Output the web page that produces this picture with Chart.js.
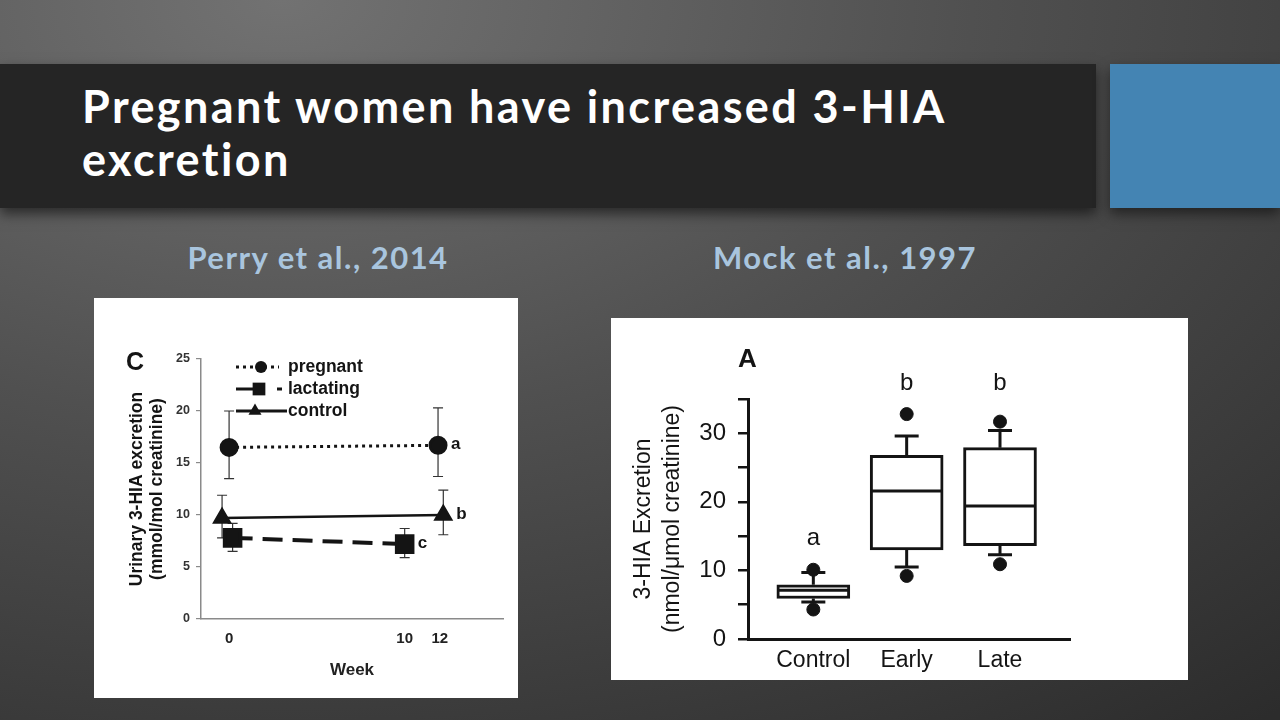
<!DOCTYPE html>
<html>
<head>
<meta charset="utf-8">
<script src="https://cdn.jsdelivr.net/npm/chart.js@4.4.1/dist/chart.umd.min.js"></script>
<style>
  html, body { margin: 0; padding: 0; }
  body {
    width: 1280px; height: 720px; overflow: hidden; position: relative;
    background: radial-gradient(ellipse 120% 130% at 22% 0%, #727272 0%, #505050 45%, #2c2c2c 100%);
    font-family: Lato, "Open Sans", sans-serif;
  }
  #titlebar {
    position: absolute; left: 0; top: 64px; width: 1096px; height: 144px;
    background: #252525; box-shadow: 0 6px 12px rgba(0,0,0,0.55);
  }
  #titlebar h1 {
    position: absolute; left: 82px; top: 16px; margin: 0;
    font: bold 45px/53px Lato, sans-serif; letter-spacing: 2.4px; color: #fff;
  }
  #bluebox {
    position: absolute; left: 1110px; top: 64px; width: 170px; height: 144px;
    background: #4484b3; box-shadow: 0 6px 12px rgba(0,0,0,0.5);
  }
  .cite {
    position: absolute; top: 238px; width: 400px; text-align: center;
    font: bold 31px Lato, sans-serif; letter-spacing: 1.5px; color: #a9c5de;
  }
  .panel { position: absolute; background: #fff; }
  .panel canvas { display: block; }
</style>
</head>
<body>
<div id="titlebar"><h1>Pregnant women have increased 3-HIA<br>excretion</h1></div>
<div id="bluebox"></div>
<div class="cite" style="left:118px">Perry et al., 2014</div>
<div class="cite" style="left:645px">Mock et al., 1997</div>

<div class="panel" style="left:94px;top:298px;width:424px;height:400px">
  <canvas id="perry" width="424" height="400"></canvas>
</div>
<div class="panel" style="left:611px;top:318px;width:577px;height:362px">
  <canvas id="mock" width="577" height="362"></canvas>
</div>

<script>
// ---- Perry et al. 2014 (panel C) ----
const weekTicks = [0, 10, 12];

const pregnantWeek = [0, 11.9];
const pregnantMean = [16.5, 16.7];
const pregnantLow  = [13.5, 13.7];
const pregnantHigh = [20.0, 20.3];

const lactatingWeek = [0.2, 10];
const lactatingMean = [7.8, 7.2];
const lactatingLow  = [6.5, 5.9];
const lactatingHigh = [9.2, 8.7];

const controlWeek = [-0.4, 12.2];
const controlMean = [9.7, 10.0];
const controlLow  = [7.8, 8.1];
const controlHigh = [11.9, 12.4];

const perryLetters = ['a', 'c', 'b'];

// ---- Mock et al. 1997 (panel A) ----
const groups = ['Control', 'Early', 'Late'];
const q1 = [5.9, 13.0, 13.6];
const q3 = [7.9, 26.8, 27.9];
const median = [7.1, 21.6, 19.4];
const whiskerLow = [5.4, 10.5, 12.3];
const whiskerHigh = [9.7, 29.6, 30.4];
const outlierLow = [4.3, 9.2, 10.9];
const outlierHigh = [10.1, 32.8, 31.7];
const mockLetters = ['a', 'b', 'b'];

const ink = '#141414';
const boldFont = (size) => ({ family: 'Liberation Sans', weight: 'bold', size: size });

function points(week, mean, low, high) {
  return week.map((w, i) => ({ x: w, y: mean[i], lo: low[i], hi: high[i] }));
}

function marker(ctx, style, x, y, r) {
  ctx.beginPath();
  if (style === 'circle') {
    ctx.arc(x, y, r, 0, Math.PI * 2);
  } else if (style === 'rect') {
    const s = r * Math.SQRT1_2;
    ctx.rect(x - s, y - s, 2 * s, 2 * s);
  } else {
    ctx.moveTo(x, y - r);
    ctx.lineTo(x + r * 0.866, y + r * 0.5);
    ctx.lineTo(x - r * 0.866, y + r * 0.5);
    ctx.closePath();
  }
  ctx.fill();
}

const perryMarks = {
  id: 'perryMarks',
  beforeDatasetsDraw(chart) {
    const { ctx, scales: { x, y } } = chart;
    ctx.save();
    ctx.strokeStyle = '#333';
    ctx.lineWidth = 1.2;
    chart.data.datasets.forEach(ds => {
      ds.data.forEach(p => {
        const px = x.getPixelForValue(p.x);
        const lo = y.getPixelForValue(p.lo), hi = y.getPixelForValue(p.hi);
        ctx.beginPath();
        ctx.moveTo(px, lo); ctx.lineTo(px, hi);
        ctx.moveTo(px - 5, lo); ctx.lineTo(px + 5, lo);
        ctx.moveTo(px - 5, hi); ctx.lineTo(px + 5, hi);
        ctx.stroke();
      });
    });
    ctx.restore();
  },
  afterDraw(chart) {
    const { ctx, chartArea: a, scales: { x, y } } = chart;
    ctx.save();
    ctx.fillStyle = ink;
    ctx.strokeStyle = ink;
    ctx.textBaseline = 'middle';
    // panel letter
    ctx.font = 'bold 25px "Liberation Sans"';
    ctx.fillText('C', a.left - 75, a.top + 4);
    // letters next to last points
    ctx.font = 'bold 17px "Liberation Sans"';
    chart.data.datasets.forEach((ds, i) => {
      const last = ds.data[ds.data.length - 1];
      ctx.fillText(perryLetters[i], x.getPixelForValue(last.x) + 13, y.getPixelForValue(last.y) - 1);
    });
    // legend inside the plot
    const rows = [
      { ds: chart.data.datasets[0], dash: [3, 4], end: 78, mx: 60, r: 6 },
      { ds: chart.data.datasets[1], dash: [29, 12, 5, 100], end: 81, mx: 58, r: 9 },
      { ds: chart.data.datasets[2], dash: [], end: 86, mx: 54, r: 7.5 }
    ];
    ctx.font = 'bold 17.5px "Liberation Sans"';
    rows.forEach((row, i) => {
      const ly = a.top + 8 + i * 22;
      ctx.save();
      ctx.lineWidth = 3;
      ctx.setLineDash(row.dash);
      ctx.beginPath();
      ctx.moveTo(a.left + 35, ly); ctx.lineTo(a.left + row.end, ly);
      ctx.stroke();
      ctx.restore();
      marker(ctx, row.ds.pointStyle, a.left + row.mx, ly, row.r);
      ctx.fillText(row.ds.label, a.left + 87, ly);
    });
    ctx.restore();
  }
};

new Chart(document.getElementById('perry'), {
  type: 'line',
  data: {
    datasets: [
      {
        label: 'pregnant', data: points(pregnantWeek, pregnantMean, pregnantLow, pregnantHigh),
        borderColor: ink, backgroundColor: ink, borderWidth: 3, borderDash: [3, 4],
        pointStyle: 'circle', pointRadius: 8, pointBackgroundColor: ink
      },
      {
        label: 'lactating', data: points(lactatingWeek, lactatingMean, lactatingLow, lactatingHigh),
        borderColor: ink, backgroundColor: ink, borderWidth: 4, borderDash: [20, 10],
        pointStyle: 'rect', pointRadius: 11, pointBackgroundColor: ink
      },
      {
        label: 'control', data: points(controlWeek, controlMean, controlLow, controlHigh),
        borderColor: ink, backgroundColor: ink, borderWidth: 2.5,
        pointStyle: 'triangle', pointRadius: 9, pointBackgroundColor: ink
      }
    ]
  },
  options: {
    responsive: false,
    animation: false,
    layout: { padding: { top: 61, right: 15, left: 0, bottom: 0 } },
    plugins: { legend: { display: false }, tooltip: { enabled: false } },
    scales: {
      x: {
        type: 'linear', min: -1.6, max: 15.6,
        afterBuildTicks: s => { s.ticks = weekTicks.map(v => ({ value: v })); },
        afterFit: s => { s.height = 79; },
        grid: { display: false, drawTicks: false },
        border: { color: '#8a8a8a', width: 1.5 },
        ticks: { padding: 11, color: '#222', font: boldFont(15) },
        title: { display: true, text: 'Week', color: '#222', font: boldFont(17), padding: { top: 0, bottom: 17 } }
      },
      y: {
        min: 0, max: 25,
        afterFit: s => { s.width = 107; },
        grid: { drawOnChartArea: false, tickLength: 5, color: '#8a8a8a', lineWidth: 1.2 },
        border: { color: '#8a8a8a', width: 1.5 },
        ticks: { stepSize: 5, padding: 6, color: '#333', font: boldFont(12.5) },
        title: {
          display: true, text: ['Urinary 3-HIA excretion', '(mmol/mol creatinine)'],
          color: ink, font: { family: 'Liberation Sans', weight: 'bold', size: 17.5, lineHeight: 1.15 },
          padding: { top: 33, bottom: 0 }
        }
      }
    }
  },
  plugins: [perryMarks]
});

// ---- box plot panel ----
const boxMarks = {
  id: 'boxMarks',
  beforeDatasetsDraw(chart) {
    const { ctx, scales: { x, y } } = chart;
    ctx.save();
    ctx.strokeStyle = ink;
    ctx.lineWidth = 3;
    groups.forEach((g, i) => {
      const px = x.getPixelForValue(i + 1);
      [[q3[i], whiskerHigh[i]], [q1[i], whiskerLow[i]]].forEach(([from, to]) => {
        const yt = y.getPixelForValue(to);
        ctx.beginPath();
        ctx.moveTo(px, y.getPixelForValue(from)); ctx.lineTo(px, yt);
        ctx.moveTo(px - 12, yt); ctx.lineTo(px + 12, yt);
        ctx.stroke();
      });
    });
    ctx.restore();
  },
  afterDatasetsDraw(chart) {
    const { ctx, scales: { x, y } } = chart;
    ctx.save();
    ctx.strokeStyle = ink;
    ctx.lineWidth = 3;
    groups.forEach((g, i) => {
      const px = x.getPixelForValue(i + 1);
      const my = y.getPixelForValue(median[i]);
      ctx.beginPath();
      ctx.moveTo(px - 35, my); ctx.lineTo(px + 35, my);
      ctx.stroke();
    });
    ctx.restore();
  },
  afterDraw(chart) {
    const { ctx, chartArea: a, scales: { x, y } } = chart;
    ctx.save();
    ctx.fillStyle = ink;
    ctx.font = 'bold 26px "Liberation Sans"';
    ctx.textBaseline = 'middle';
    ctx.fillText('A', a.left - 10, a.top - 39);
    ctx.font = '24px "Liberation Sans"';
    ctx.textAlign = 'center';
    const tops = groups.map((g, i) => y.getPixelForValue(Math.max(whiskerHigh[i], outlierHigh[i])) - 31);
    groups.forEach((g, i) => {
      let ty = tops[i];
      mockLetters.forEach((l, j) => { if (l === mockLetters[i]) ty = Math.min(ty, tops[j]); });
      ctx.fillText(mockLetters[i], x.getPixelForValue(i + 1), ty);
    });
    ctx.restore();
  }
};

const outliers = [];
groups.forEach((g, i) => {
  outliers.push({ x: i + 1, y: outlierLow[i] });
  outliers.push({ x: i + 1, y: outlierHigh[i] });
});

new Chart(document.getElementById('mock'), {
  type: 'bar',
  data: {
    datasets: [
      {
        type: 'scatter', data: outliers,
        pointRadius: 6.5, pointBackgroundColor: ink, borderColor: ink
      },
      {
        type: 'bar', data: groups.map((g, i) => ({ x: i + 1, y: [q1[i], q3[i]] })),
        backgroundColor: '#fff', borderColor: ink, borderWidth: 3, borderSkipped: false,
        barThickness: 73
      }
    ]
  },
  options: {
    responsive: false,
    animation: false,
    layout: { padding: { top: 81, right: 118, left: 0, bottom: 0 } },
    plugins: { legend: { display: false }, tooltip: { enabled: false } },
    scales: {
      x: {
        type: 'linear', min: 0.3, max: 3.75, offset: false,
        afterBuildTicks: s => { s.ticks = groups.map((g, i) => ({ value: i + 1 })); },
        afterFit: s => { s.height = 41; },
        grid: { display: false, drawTicks: false },
        border: { color: ink, width: 3 },
        ticks: { padding: 8, color: ink, font: { family: 'Liberation Sans', size: 23 }, callback: v => groups[v - 1] }
      },
      y: {
        min: 0, max: 35,
        afterFit: s => { s.width = 137; },
        grid: { drawOnChartArea: false, tickLength: 10, color: ink, lineWidth: 2.5 },
        border: { color: ink, width: 3 },
        ticks: {
          stepSize: 5, padding: 12, color: ink, font: { family: 'Liberation Sans', size: 24 },
          callback: v => (v % 10 === 0 ? v : '')
        },
        title: {
          display: true, text: ['3-HIA Excretion', '(nmol/\u03bcmol creatinine)'],
          color: ink, font: { family: 'Liberation Sans', size: 23, lineHeight: 1.26 },
          padding: { top: 18, bottom: 0 }
        }
      }
    }
  },
  plugins: [boxMarks]
});
</script>
</body>
</html>
